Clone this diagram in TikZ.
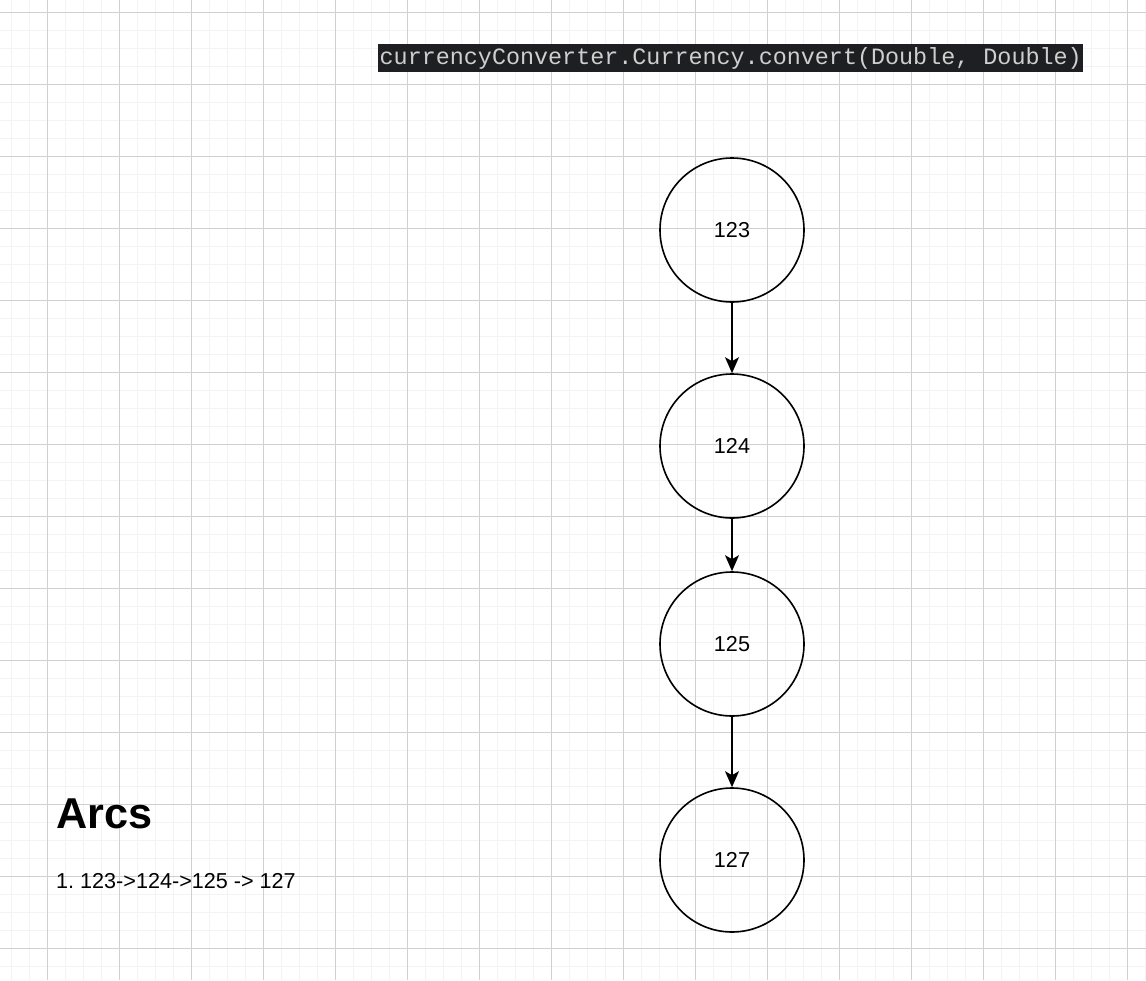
\documentclass[tikz,border=0pt]{standalone}
\usepackage{fontspec}
\setmainfont{Liberation Sans}
\newfontfamily\codefont{Liberation Mono}
\usetikzlibrary{arrows.meta}
\frenchspacing
\definecolor{minorgrid}{HTML}{F3F3F3}
\definecolor{majorgrid}{HTML}{D0D0D0}
\definecolor{codebg}{HTML}{1E1F22}
\definecolor{codefg}{HTML}{CFCFCF}
\tikzset{
  state/.style={circle, draw=black, line width=1.6pt, minimum size=144pt, inner sep=0pt, font=\fontsize{21.6}{26}\selectfont},
  arc/.style={line width=1.6pt, -{Stealth[length=16pt,width=14pt,inset=4pt]}},
}
\begin{document}
\begin{tikzpicture}[x=1pt,y=-1pt]
\useasboundingbox (0,0) rectangle (1146,980);
\fill[white] (0,0) rectangle (1146,980);
% minor grid
\foreach \i in {0,...,64} {\draw[minorgrid, line width=1.3pt] ({11.3+18*\i},0) -- ({11.3+18*\i},980);}
\foreach \j in {0,...,55} {\draw[minorgrid, line width=1.3pt] (0,{12.3+18*\j}) -- (1146,{12.3+18*\j});}
% major grid
\foreach \i in {0,...,15} {\draw[majorgrid, line width=1pt] ({47.3+72*\i},0) -- ({47.3+72*\i},980);}
\foreach \j in {0,...,13} {\draw[majorgrid, line width=1pt] (0,{12.3+72*\j}) -- (1146,{12.3+72*\j});}

\node[anchor=west, fill=codebg, text=codefg, inner xsep=1.5pt, inner ysep=0pt, minimum height=28pt, font=\codefont\fontsize{23.4}{28}\selectfont] (code) at (378,58.3) {currencyConverter.Currency.convert(Double, Double)};

\node[state] (n123) at (732,230) {123};
\node[state] (n124) at (732,446) {124};
\node[state] (n125) at (732,644) {125};
\node[state] (n127) at (732,860) {127};

\draw[arc] (n123) -- (n124);
\draw[arc] (n124) -- (n125);
\draw[arc] (n125) -- (n127);

\node[anchor=base west, inner sep=0pt, font=\bfseries\fontsize{43.2}{50}\selectfont] (title) at (56.5,828.3) {Arcs};
\node[anchor=base west, inner sep=0pt, font=\fontsize{21.6}{26}\selectfont] (list) at (56,888.3) {1. 123->124->125 -> 127};
\end{tikzpicture}
\end{document}
